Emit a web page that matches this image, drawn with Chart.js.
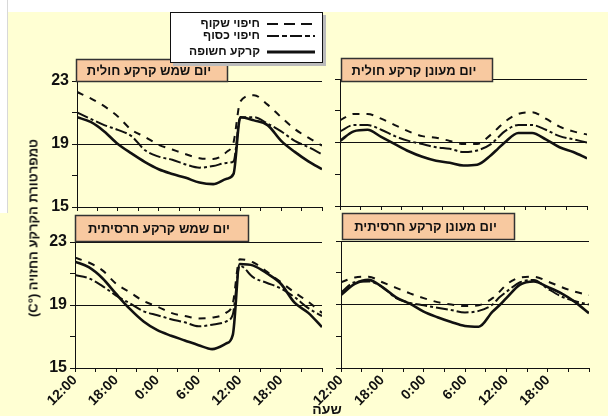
<!DOCTYPE html>
<html lang="he">
<head>
<meta charset="utf-8">
<script src="https://cdn.jsdelivr.net/npm/chart.js@4.4.1/dist/chart.umd.min.js"></script>
<style>
  html, body { margin: 0; padding: 0; }
  body { width: 608px; height: 416px; position: relative; overflow: hidden;
         background: #FFFFD3; font-family: "Liberation Sans", Arial, sans-serif; }
  #topStrip { position: absolute; left: 0; top: 0; width: 608px; height: 12px; background: #fff; }
  #leftStrip { position: absolute; left: 0; top: 0; width: 7px; height: 213px; background: #fff;
               border-right: 1px solid #d8d8d8; }
  .panel { position: absolute; left: 0; top: 0; width: 608px; height: 416px; }
  #yTitle { position: absolute; left: 33px; top: 228px; transform: translate(-50%, -50%) rotate(-90deg);
            white-space: nowrap; font: bold 13px "Liberation Sans", Arial, sans-serif; color: #111; direction: rtl; }
  #xTitle { position: absolute; left: 327px; top: 409px; transform: translate(-50%, -50%);
            white-space: nowrap; font: bold 14px "Liberation Sans", Arial, sans-serif; color: #111; direction: rtl; }
</style>
</head>
<body>
<div id="topStrip"></div>
<div id="leftStrip"></div>
<div class="panel"><canvas id="cTL" width="608" height="416"></canvas></div>
<div class="panel"><canvas id="cTR" width="608" height="416"></canvas></div>
<div class="panel"><canvas id="cBL" width="608" height="416"></canvas></div>
<div class="panel"><canvas id="cBR" width="608" height="416"></canvas></div>
<div id="yTitle">טמפרטורת הקרקע החזויה (°C)</div>
<div id="xTitle">שעה</div>
<script>
// Hours after 12:00 on the first day
const hours = [0, 2, 4, 6, 8, 10, 12, 14, 16, 18, 20, 22, 23, 24, 26, 28, 30, 32, 34, 36];
// Time labels every 6 hours (the last tick at 36 h has no label)
const tickHours  = [0, 6, 12, 18, 24, 30];
const tickLabels = ['12:00', '18:00', '0:00', '6:00', '12:00', '18:00'];
const yTickValues = [15, 19, 23];

const seriesNames = ['חיפוי שקוף', 'חיפוי כסוף', 'קרקע חשופה'];
const panelTitles = ['יום שמש קרקע חולית', 'יום מעונן קרקע חולית',
                     'יום שמש קרקע חרסיתית', 'יום מעונן קרקע חרסיתית'];

// Sunny day, sandy soil
const sunSandClear  = [22.3, 21.9, 21.4, 20.75, 19.9, 19.45, 18.95, 18.65, 18.35, 18.1, 18.05, 18.5, 19.1, 21.7, 22.1, 21.5, 20.7, 19.95, 19.4, 18.9];
const sunSandSilver = [21.0, 20.6, 20.2, 19.9, 19.5, 18.6, 18.2, 18.0, 17.7, 17.5, 17.6, 17.8, 17.9, 20.7, 20.7, 20.3, 19.8, 19.2, 18.8, 18.35];
const sunSandBare   = [20.7, 20.4, 19.8, 19.0, 18.4, 17.85, 17.4, 17.1, 16.85, 16.55, 16.45, 16.8, 17.1, 20.7, 20.5, 20.2, 19.2, 18.5, 17.9, 17.4];
// Cloudy day, sandy soil
const cloudSandClear  = [20.4, 20.8, 20.8, 20.5, 20.1, 19.7, 19.4, 19.3, 19.1, 18.9, 18.9, 19.5, 19.9, 20.3, 20.8, 20.9, 20.5, 20.0, 19.7, 19.5];
const cloudSandSilver = [19.7, 20.1, 20.1, 19.8, 19.4, 19.1, 18.9, 18.7, 18.6, 18.4, 18.5, 18.9, 19.3, 19.7, 20.1, 20.1, 19.8, 19.4, 19.2, 19.0];
const cloudSandBare   = [19.1, 19.7, 19.8, 19.35, 18.9, 18.45, 18.1, 17.85, 17.72, 17.55, 17.6, 18.2, 18.6, 19.0, 19.6, 19.6, 19.2, 18.7, 18.4, 18.0];
// Sunny day, clay soil
const sunClayClear  = [22.0, 21.7, 21.2, 20.35, 19.8, 19.25, 18.9, 18.5, 18.3, 18.15, 18.2, 18.5, 19.1, 21.9, 21.7, 21.1, 20.45, 19.8, 19.2, 18.5];
const sunClaySilver = [20.9, 20.7, 20.2, 19.6, 19.1, 18.6, 18.35, 18.1, 17.9, 17.65, 17.75, 17.95, 18.4, 21.5, 20.75, 20.4, 20.05, 19.5, 18.8, 18.3];
const sunClayBare   = [21.75, 21.4, 20.7, 19.7, 18.75, 17.95, 17.4, 17.05, 16.75, 16.45, 16.2, 16.55, 17.1, 21.6, 21.5, 21.0, 20.35, 19.15, 18.5, 17.6];
// Cloudy day, clay soil
const cloudClayClear  = [20.4, 20.7, 20.75, 20.4, 20.05, 19.7, 19.4, 19.15, 19.0, 18.9, 18.95, 19.4, 19.8, 20.25, 20.7, 20.75, 20.45, 20.1, 19.8, 19.6];
const cloudClaySilver = [19.75, 20.4, 20.45, 20.1, 19.4, 19.1, 18.95, 18.8, 18.65, 18.5, 18.6, 19.0, 19.45, 19.8, 20.4, 20.55, 20.0, 19.5, 19.2, 19.0];
const cloudClayBare   = [19.6, 20.3, 20.55, 20.1, 19.45, 19.05, 18.55, 18.2, 17.9, 17.65, 17.6, 18.55, 18.95, 19.4, 20.25, 20.45, 20.1, 19.7, 19.15, 18.45];

const FONT = '"Liberation Sans", Arial, sans-serif';
const INK = '#111';
const lineStyles = [
  { borderWidth: 2, borderDash: [7, 7] },          // clear mulch
  { borderWidth: 2, borderDash: [12, 3, 3, 3] },   // silver mulch
  { borderWidth: 2.6, borderDash: [] }             // bare soil
];

function points(values) {
  return hours.map((h, i) => ({ x: h, y: values[i] }));
}

// Title box in the corner of each panel, plus the shared key on the first panel
const panelDecor = {
  id: 'panelDecor',
  afterDraw(chart, args, opts) {
    const ctx = chart.ctx;
    const b = opts.box;
    if (b) {
      ctx.save();
      ctx.fillStyle = '#F8C9A0';
      ctx.fillRect(b.x, b.y, b.w, b.h);
      ctx.strokeStyle = '#333';
      ctx.lineWidth = 1.5;
      ctx.strokeRect(b.x + 0.5, b.y + 0.5, b.w - 1, b.h - 1);
      ctx.fillStyle = INK;
      ctx.font = 'bold 13px ' + FONT;
      ctx.textAlign = 'center';
      ctx.textBaseline = 'middle';
      ctx.direction = 'rtl';
      ctx.fillText(opts.text, b.x + b.w / 2 - 3, b.y + b.h / 2 + 1);
      ctx.restore();
    }
    if (opts.key) {
      const k = opts.key;
      ctx.save();
      ctx.fillStyle = '#bbb';
      ctx.fillRect(k.x + 3, k.y + 3, k.w, k.h);
      ctx.fillStyle = '#fff';
      ctx.fillRect(k.x, k.y, k.w, k.h);
      ctx.strokeStyle = INK;
      ctx.lineWidth = 1;
      ctx.strokeRect(k.x + 0.5, k.y + 0.5, k.w - 1, k.h - 1);
      ctx.font = 'bold 12px ' + FONT;
      ctx.textAlign = 'right';
      ctx.textBaseline = 'middle';
      ctx.direction = 'rtl';
      k.rows.forEach((ry, i) => {
        const ds = chart.data.datasets[i];
        ctx.fillStyle = INK;
        ctx.fillText(ds.label, k.textRight, ry);
        ctx.beginPath();
        ctx.setLineDash(i === 2 ? [] : (i === 0 ? [11, 6] : [12, 3, 5, 3]));
        ctx.lineWidth = i === 2 ? 3 : 2;
        ctx.strokeStyle = INK;
        ctx.moveTo(k.lineX0, ry);
        ctx.lineTo(k.lineX1, ry);
        ctx.stroke();
      });
      ctx.restore();
    }
  }
};

function makePanel(id, series, cfg) {
  const datasets = series.map((vals, i) => Object.assign({
    label: seriesNames[i],
    data: points(vals),
    borderColor: INK,
    backgroundColor: INK,
    pointRadius: 0,
    fill: false,
    cubicInterpolationMode: 'monotone'
  }, lineStyles[i]));

  return new Chart(document.getElementById(id), {
    type: 'line',
    data: { datasets },
    plugins: [panelDecor],
    options: {
      responsive: false,
      animation: false,
      devicePixelRatio: 1,
      layout: { padding: { left: cfg.left - cfg.yW, right: 608 - cfg.right, top: cfg.top, bottom: 416 - cfg.bottom - cfg.xH } },
      plugins: {
        legend: { display: false },
        tooltip: { enabled: false },
        panelDecor: { text: cfg.title, box: cfg.box, key: cfg.key }
      },
      scales: {
        x: {
          type: 'linear', min: 0, max: 36,
          border: { color: INK, width: 1 },
          grid: { drawOnChartArea: false, drawTicks: true, tickLength: 4, tickColor: INK },
          ticks: {
            display: cfg.showX, stepSize: 3, autoSkip: false, minRotation: 45, maxRotation: 45,
            padding: 0, color: INK, font: { family: FONT, size: 14, weight: 'bold' },
            callback: v => { const i = tickHours.indexOf(v); return i >= 0 ? tickLabels[i] : ''; }
          },
          afterFit: s => { s.height = cfg.xH; s.paddingLeft = 0; s.paddingRight = 0; }
        },
        y: {
          min: 15, max: 23,
          border: { color: INK, width: 1 },
          grid: {
            drawTicks: true, tickLength: 5, tickColor: INK, lineWidth: 1,
            color: c => (c.tick && (c.tick.value === 19 || c.tick.value === 23)) ? INK : 'rgba(0,0,0,0)'
          },
          ticks: {
            display: cfg.showY, stepSize: 2, padding: 3, color: INK,
            font: { family: FONT, size: 16, weight: 'bold' },
            callback: v => yTickValues.includes(v) ? String(v) : ''
          },
          afterFit: s => { s.width = cfg.yW; s.paddingTop = 0; s.paddingBottom = 0; }
        }
      }
    }
  });
}

makePanel('cTL', [sunSandClear, sunSandSilver, sunSandBare], {
  left: 77, right: 322, top: 81, bottom: 207, yW: 40, xH: 10, showX: false, showY: true,
  title: panelTitles[0], box: { x: 76, y: 59, w: 152, h: 23 },
  key: { x: 170, y: 12, w: 153, h: 51, rows: [24, 36, 52], textRight: 260, lineX0: 267, lineX1: 315 }
});
makePanel('cTR', [cloudSandClear, cloudSandSilver, cloudSandBare], {
  left: 340, right: 587, top: 79, bottom: 206, yW: 10, xH: 10, showX: false, showY: false,
  title: panelTitles[1], box: { x: 341, y: 58, w: 152, h: 24 }
});
makePanel('cBL', [sunClayClear, sunClaySilver, sunClayBare], {
  left: 75, right: 322, top: 242, bottom: 368, yW: 40, xH: 48, showX: true, showY: true,
  title: panelTitles[2], box: { x: 75, y: 215, w: 174, h: 27 }
});
makePanel('cBR', [cloudClayClear, cloudClaySilver, cloudClayBare], {
  left: 341, right: 589, top: 241, bottom: 368, yW: 10, xH: 48, showX: true, showY: false,
  title: panelTitles[3], box: { x: 342, y: 213, w: 173, h: 27 }
});
</script>
</body>
</html>
